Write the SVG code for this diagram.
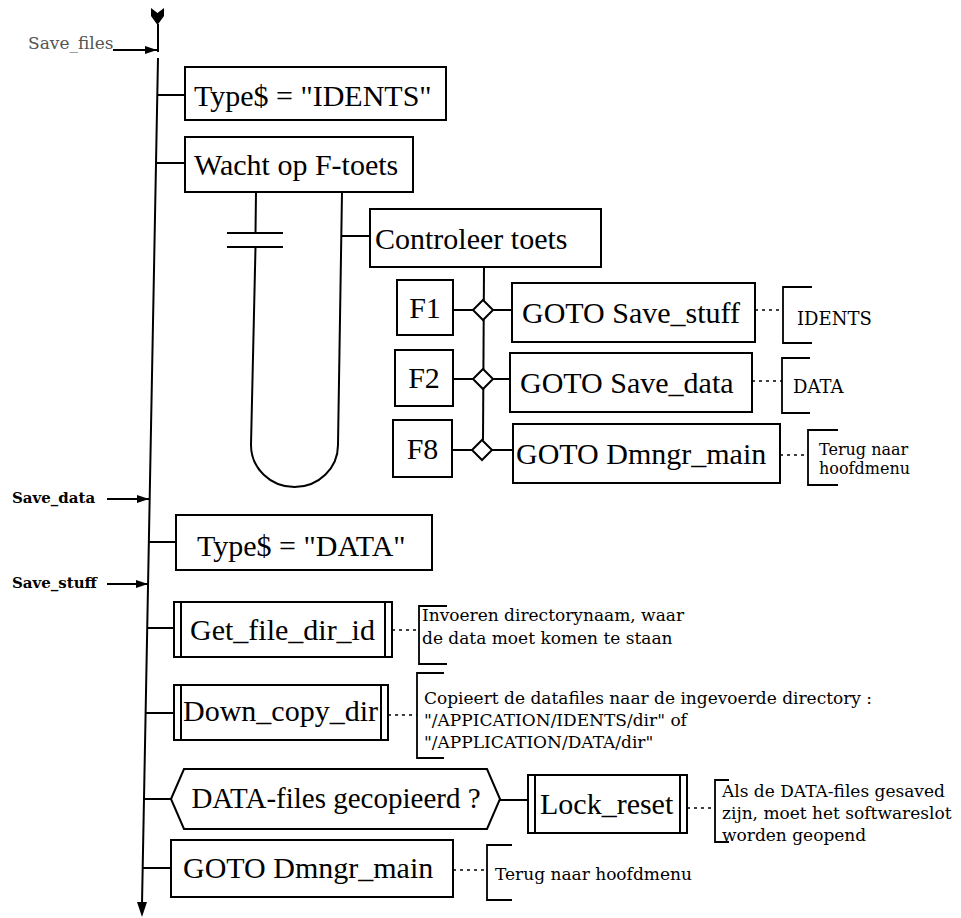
<svg xmlns="http://www.w3.org/2000/svg" width="961" height="918" viewBox="0 0 961 918">
<defs>
<style>
.box{fill:#fff;stroke:#000;stroke-width:2}
.ln{fill:none;stroke:#000;stroke-width:2}
.dot{fill:none;stroke:#000;stroke-width:1.6;stroke-dasharray:3 4}
.br{fill:none;stroke:#000;stroke-width:1.8}
.t{font-family:"Liberation Serif","Times New Roman",serif;font-size:30px;fill:#000}
.c{font-family:"DejaVu Serif","Liberation Serif",serif;font-size:17px;fill:#000}
.lbl{font-family:"DejaVu Serif","Liberation Serif",serif;font-size:15px;font-weight:bold;fill:#000}
</style>
<marker id="ah" viewBox="0 0 12 8" refX="12" refY="4" markerWidth="12" markerHeight="8" markerUnits="userSpaceOnUse" orient="auto"><path d="M0,0 L12,4 L0,8 z" fill="#000"/></marker>
</defs>
<rect width="961" height="918" fill="#fff"/>

<g id="connectors">
  <polygon points="151,8 157.5,13 164,8 164,16 157.5,25 151,16" fill="#000"/>
  <path class="ln" d="M158,24 V52 M158,58 L142,904"/>
  <polygon points="137,902 147,902 142,917" fill="#000"/>
  <line class="ln" x1="113" y1="50" x2="157" y2="50" stroke-width="1.5" marker-end="url(#ah)"/>
  <line class="ln" x1="107" y1="499" x2="149" y2="499" marker-end="url(#ah)"/>
  <line class="ln" x1="107" y1="584" x2="148" y2="584" marker-end="url(#ah)"/>
  <path class="ln" d="M157,95 H185 M156,163 H185 M149,542 H176 M147,628 H174 M146,713 H174 M144,799 H171 M143,868 H171"/>
  <path class="ln" d="M256,192 L255.5,233 M227,233 H283 M227,247 H283 M255.5,247 L251,445 A43.5,42 0 0 0 338,445 L342,192 M341,236 H370"/>
  <path class="ln" d="M484,267 L483,440"/>
  <path class="ln" d="M453,310 H473 M493,310 H512 M453,379 H473 M493,379 H510 M452,450 H472 M492,450 H513"/>
  <path class="ln" d="M500,800 H528"/>
  <path class="dot" d="M755,310 H783 M752,381 H782 M780,455 H808 M392,630 H419 M388,715 H417 M687,808 H715 M453,870 H487"/>
</g>

<g id="save-files-label"><text x="28" y="49" class="c" fill="#555" style="fill:#555">Save_files</text></g>
<g id="save-data-label"><text x="12" y="503" class="lbl">Save_data</text></g>
<g id="save-stuff-label"><text x="12" y="588" class="lbl">Save_stuff</text></g>

<g id="type-idents"><rect class="box" x="185" y="67" width="261" height="53"/><text class="t" x="194" y="106">Type$ = "IDENTS"</text></g>
<g id="wacht"><rect class="box" x="185" y="137" width="228" height="55"/><text class="t" x="194" y="175">Wacht op F-toets</text></g>
<g id="controleer"><rect class="box" x="370" y="209" width="231" height="58"/><text class="t" x="375" y="249">Controleer toets</text></g>

<g id="diamonds">
  <polygon class="box" points="483,300 493,310 483,320 473,310"/>
  <polygon class="box" points="483,369 493,379 483,389 473,379"/>
  <polygon class="box" points="482,440 492,450 482,460 472,450"/>
</g>

<g id="f1"><rect class="box" x="397" y="280" width="56" height="55"/><text class="t" x="425" y="318" text-anchor="middle">F1</text></g>
<g id="f2"><rect class="box" x="395" y="350" width="58" height="56"/><text class="t" x="424" y="388" text-anchor="middle">F2</text></g>
<g id="f8"><rect class="box" x="393" y="420" width="59" height="57"/><text class="t" x="422.5" y="459" text-anchor="middle">F8</text></g>

<g id="goto-save-stuff"><rect class="box" x="512" y="283" width="243" height="59"/><text class="t" x="522" y="323">GOTO Save_stuff</text></g>
<g id="goto-save-data"><rect class="box" x="510" y="353" width="242" height="59"/><text class="t" x="520" y="393">GOTO Save_data</text></g>
<g id="goto-dmngr-1"><rect class="box" x="513" y="424" width="267" height="59"/><text class="t" x="516" y="464">GOTO Dmngr_main</text></g>

<g id="note-idents"><path class="br" d="M812,287 H783 V343 H812"/><text class="c" x="797" y="325" style="font-size:18px">IDENTS</text></g>
<g id="note-data"><path class="br" d="M810,358 H782 V413 H810"/><text class="c" x="793" y="393" style="font-size:18px">DATA</text></g>
<g id="note-terug-1"><path class="br" d="M838,430 H808 V485 H838"/><text class="c" x="819" y="455" style="font-size:16px">Terug naar</text><text class="c" x="819" y="474" style="font-size:16px">hoofdmenu</text></g>

<g id="type-data"><rect class="box" x="176" y="515" width="256" height="55"/><text class="t" x="197" y="556">Type$ = "DATA"</text></g>

<g id="get-file-dir-id"><rect class="box" x="174" y="602" width="218" height="55"/><path class="ln" d="M181,602 V657 M385,602 V657"/><text class="t" x="190" y="640">Get_file_dir_id</text></g>
<g id="note-get-file"><path class="br" d="M447,606 H419 V664 H447"/><text class="c" x="422" y="621">Invoeren directorynaam, waar</text><text class="c" x="422" y="644">de data moet komen te staan</text></g>

<g id="down-copy-dir"><rect class="box" x="174" y="685" width="214" height="55"/><path class="ln" d="M181,685 V740 M381,685 V740"/><text class="t" x="183" y="721">Down_copy_dir</text></g>
<g id="note-down-copy"><path class="br" d="M444,673 H417 V758 H444"/><text class="c" x="424" y="704">Copieert de datafiles naar de ingevoerde directory :</text><text class="c" x="424" y="726">"/APPICATION/IDENTS/dir" of</text><text class="c" x="424" y="748">"/APPLICATION/DATA/dir"</text></g>

<g id="data-files-check"><polygon class="box" points="171,799 184,769 487,769 500,799 487,829 184,829"/><text class="t" x="336" y="808" text-anchor="middle" style="font-size:29px">DATA-files gecopieerd ?</text></g>

<g id="lock-reset"><rect class="box" x="528" y="775" width="159" height="58"/><path class="ln" d="M535,775 V833 M680,775 V833"/><text class="t" x="540" y="814">Lock_reset</text></g>
<g id="note-lock"><path class="br" d="M729,780 H715 V842 H729"/><text class="c" x="722" y="797">Als de DATA-files gesaved</text><text class="c" x="722" y="819">zijn, moet het softwareslot</text><text class="c" x="722" y="841">worden geopend</text></g>

<g id="goto-dmngr-2"><rect class="box" x="171" y="840" width="282" height="57"/><text class="t" x="183" y="878">GOTO Dmngr_main</text></g>
<g id="note-terug-2"><path class="br" d="M512,845 H487 V900 H512"/><text class="c" x="495" y="880">Terug naar hoofdmenu</text></g>
</svg>
